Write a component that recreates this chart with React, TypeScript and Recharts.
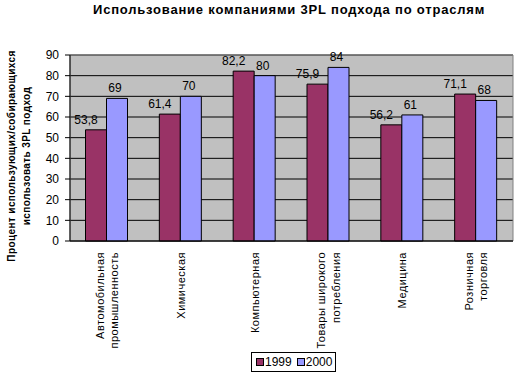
import { BarChart, Bar, XAxis, YAxis, CartesianGrid, Legend, LabelList, ReferenceArea } from 'recharts';

const categories = [
  'Автомобильная\nпромышленность',
  'Химическая',
  'Компьютерная',
  'Товары широкого\nпотребления',
  'Медицина',
  'Розничная\nторговля',
];
const values1999 = [53.8, 61.4, 82.2, 75.9, 56.2, 71.1];
const values2000 = [69, 70, 80, 84, 61, 68];
const yTicks = [0, 10, 20, 30, 40, 50, 60, 70, 80, 90];
const boundaryTicks = [0, 1, 2, 3, 4, 5, 6];

const title = 'Использование компаниями 3PL подхода по отраслям';
const yLabelLines = ['Процент использующих/собирающихся', 'использовать 3PL подход'];

const series = [
  { key: 'y1999', name: '1999', values: values1999, color: '#993366', labelShift: -10 },
  { key: 'y2000', name: '2000', values: values2000, color: '#9999FF', labelShift: -2 },
];

const data = categories.map((name, i) => ({
  name,
  y1999: values1999[i],
  y2000: values2000[i],
}));

const FONT = "'Liberation Sans', Arial, sans-serif";

function CategoryTick({ x, y, payload }: any) {
  const lines = String(payload.value).split('\n');
  const n = lines.length;
  return (
    <g transform={`translate(${x},${y + 3}) rotate(-90)`}>
      {lines.map((line, i) => (
        <text
          key={i}
          x={0}
          y={(i - (n - 1) / 2) * 14.5 + 4}
          textAnchor="end"
          fontSize={11}
          fontFamily={FONT}
          letterSpacing={0.5}
          fill="#000"
        >
          {line}
        </text>
      ))}
    </g>
  );
}

function YLabel() {
  return (
    <g transform="translate(0,156) rotate(-90)">
      {yLabelLines.map((line, i) => (
        <text
          key={i}
          x={0}
          y={15 + i * 15}
          textAnchor="middle"
          fontSize={10}
          fontWeight="bold"
          fontFamily={FONT}
          letterSpacing={0.4}
          fill="#000"
        >
          {line}
        </text>
      ))}
    </g>
  );
}

function makeValueLabel(shift: number) {
  return function ValueLabel({ x, y, width, value }: any) {
    return (
      <text
        x={x + width / 2 + shift}
        y={y - 6}
        textAnchor="middle"
        fontSize={12}
        fontFamily={FONT}
        fill="#000"
      >
        {String(value).replace('.', ',')}
      </text>
    );
  };
}

function LegendBox() {
  return (
    <div
      style={{
        border: '1px solid #000',
        display: 'flex',
        alignItems: 'center',
        gap: 5,
        padding: '2px 3px 2px 4px',
        fontFamily: FONT,
        fontSize: 12,
        background: '#fff',
        lineHeight: '14px',
      }}
    >
      {series.map((s) => (
        <span key={s.key} style={{ display: 'flex', alignItems: 'center' }}>
          <span
            style={{
              width: 6,
              height: 6,
              background: s.color,
              border: '1px solid #000',
              marginRight: 1,
              display: 'inline-block',
            }}
          />
          {s.name}
        </span>
      ))}
    </div>
  );
}

export default function App() {
  return (
    <div style={{ position: 'absolute', left: 0, top: 0, width: 520, height: 376, background: '#fff' }}>
      <div
        style={{
          position: 'absolute',
          left: 93,
          top: 2,
          fontFamily: FONT,
          fontWeight: 'bold',
          fontSize: 13,
          letterSpacing: 0.8,
          whiteSpace: 'nowrap',
          zIndex: 2,
        }}
      >
        {title}
      </div>
      <BarChart
        width={520}
        height={376}
        data={data}
        margin={{ top: 55, right: 7, bottom: 25, left: 0 }}
        barCategoryGap="21%"
        barGap={0}
      >
        <CartesianGrid vertical={false} fill="#C0C0C0" stroke="#000" strokeOpacity={1} />
        <ReferenceArea y1={0} y2={90} fill="none" stroke="#808080" strokeWidth={1} ifOverflow="visible" />
        <XAxis
          xAxisId="grid"
          type="number"
          domain={[0, 6]}
          ticks={boundaryTicks}
          allowDataOverflow
          height={0}
          tick={false}
          tickSize={5}
          tickLine={{ stroke: '#000' }}
          axisLine={false}
        />
        <XAxis
          dataKey="name"
          xAxisId="cat"
          interval={0}
          height={110}
          tickLine={false}
          axisLine={{ stroke: '#000' }}
          tick={<CategoryTick />}
        />
        <YAxis
          domain={[0, 90]}
          ticks={yTicks}
          width={70}
          tickSize={5}
          tickMargin={6}
          interval={0}
          axisLine={{ stroke: '#000' }}
          tickLine={{ stroke: '#000' }}
          tick={{ fill: '#000', fontSize: 12, fontFamily: FONT }}
          label={<YLabel />}
        />
        <Legend
          layout="vertical"
          align="center"
          verticalAlign="middle"
          wrapperStyle={{ position: 'absolute', left: 251, top: 352, width: 'auto' }}
          content={<LegendBox />}
        />
        {series.map((s) => (
          <Bar
            key={s.key}
            dataKey={s.key}
            name={s.name}
            xAxisId="cat"
            fill={s.color}
            stroke="#000"
            strokeWidth={1}
            isAnimationActive={false}
          >
            <LabelList dataKey={s.key} content={makeValueLabel(s.labelShift)} />
          </Bar>
        ))}
      </BarChart>
    </div>
  );
}
